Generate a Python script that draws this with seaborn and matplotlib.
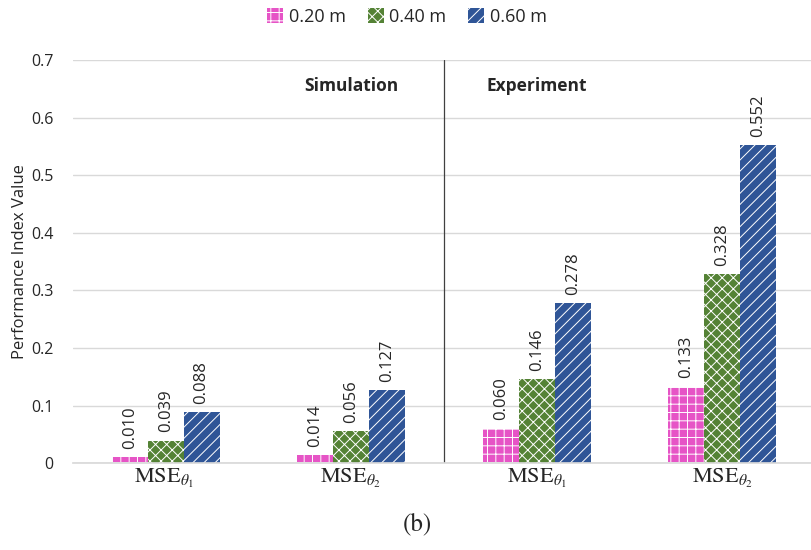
import matplotlib
matplotlib.use("Agg")
import matplotlib.pyplot as plt
from matplotlib.patches import Patch
import seaborn as sns
import pandas as pd

categories = [r"$\mathrm{MSE}_{\theta_1}$ ", r"$\mathrm{MSE}_{\theta_2}$ ",
              r"$\mathrm{MSE}_{\theta_1}$", r"$\mathrm{MSE}_{\theta_2}$"]
series = ["0.20 m", "0.40 m", "0.60 m"]
values_020 = [0.010, 0.014, 0.060, 0.133]
values_040 = [0.039, 0.056, 0.146, 0.328]
values_060 = [0.088, 0.127, 0.278, 0.552]
yticks = [0, 0.1, 0.2, 0.3, 0.4, 0.5, 0.6, 0.7]
ytick_labels = ["0", "0.1", "0.2", "0.3", "0.4", "0.5", "0.6", "0.7"]

colors = ["#E654C6", "#548235", "#2F5597"]
hatches = ["++", "xxx", "///"]

rows = []
for s, vals in zip(series, [values_020, values_040, values_060]):
    for c, v in zip(categories, vals):
        rows.append({"cat": c, "series": s, "value": v})
df = pd.DataFrame(rows)

sns.set_theme(style="white")
plt.rcParams["font.family"] = ["Open Sans", "DejaVu Sans"]
plt.rcParams["mathtext.fontset"] = "stix"
plt.rcParams["hatch.color"] = "white"
plt.rcParams["hatch.linewidth"] = 0.7

fig = plt.figure(figsize=(8.11, 5.5), dpi=100)
ax = fig.add_axes([0.09, 0.158, 0.915, 0.733])

sns.barplot(data=df, x="cat", y="value", hue="series", palette=colors,
            width=0.58, ax=ax, legend=False, saturation=1)

for container, hatch in zip(ax.containers, hatches):
    for bar in container:
        bar.set_hatch(hatch)
        bar.set_edgecolor("white")
        bar.set_linewidth(0.0)
    ax.bar_label(container, fmt="%.3f", rotation=90, padding=6, fontsize=12)

ax.set_ylim(0, 0.7)
ax.set_yticks(yticks)
ax.set_yticklabels(ytick_labels, fontsize=11.5)
ax.tick_params(axis="y", length=0, pad=14)
ax.tick_params(axis="x", length=0, pad=3, labelsize=16)
ax.yaxis.grid(True, color="#D9D9D9", linewidth=1)
ax.set_axisbelow(True)
for side in ["top", "right", "left"]:
    ax.spines[side].set_visible(False)
ax.spines["bottom"].set_color("#D9D9D9")
ax.set_xlabel("")
ax.set_ylabel("Performance Index Value", fontsize=12)
ax.yaxis.set_label_coords(-0.06, 0.5)

# separator between the simulation and experiment groups
ax.axvline(1.5, color="#404040", linewidth=0.9)
ax.text(1.0, 0.655, "Simulation", ha="center", va="center",
        fontsize=12.5, fontweight="bold")
ax.text(2.0, 0.655, "Experiment", ha="center", va="center",
        fontsize=12.5, fontweight="bold")

handles = [Patch(facecolor=c, edgecolor="white", linewidth=0, hatch=h, label=s)
           for c, h, s in zip(colors, hatches, series)]
ax.legend(handles=handles, loc="upper center", bbox_to_anchor=(0.45, 1.17),
          ncol=3, frameon=False, fontsize=13, handlelength=0.9,
          handleheight=0.9, handletextpad=0.3, columnspacing=1.2)

fig.text(0.515, 0.047, "(b)", ha="center", va="center", fontsize=18,
         family="STIXGeneral")

fig.savefig("out.png", dpi=100)
